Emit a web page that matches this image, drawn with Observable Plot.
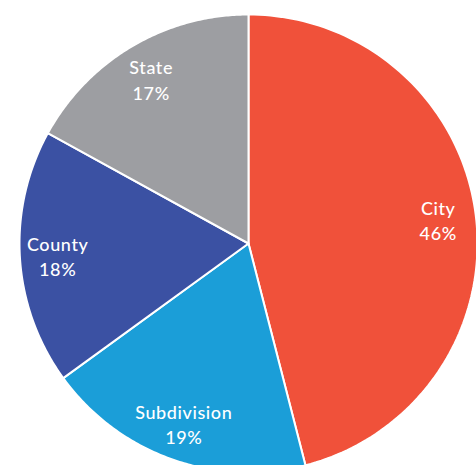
<!DOCTYPE html>
<html>
<head>
<meta charset="utf-8">
<script src="https://cdn.jsdelivr.net/npm/d3@7"></script>
<script src="https://cdn.jsdelivr.net/npm/@observablehq/plot@0.6"></script>
<style>
  html, body { margin: 0; padding: 0; background: #fff; overflow: hidden; }
  svg { overflow: hidden; }
  svg text { letter-spacing: 0.6px; }
</style>
</head>
<body>
<div id="chart"></div>
<script>
const categories = ["City", "Subdivision", "County", "State"];
const shares = [46, 19, 18, 17];
const labels = ["46%", "19%", "18%", "17%"];
const colors = ["#F0513A", "#1B9ED8", "#3B51A3", "#9D9EA2"];

const data = categories.map((c, i) => ({category: c, value: shares[i], label: labels[i]}));
const arcs = d3.pie().sort(null).value(d => d.value)(data);

// Polygon outline for each slice in unit-circle coordinates
const outline = [];
arcs.forEach(a => {
  const cat = a.data.category;
  outline.push({category: cat, x: 0, y: 0});
  const steps = 120;
  for (let k = 0; k <= steps; k++) {
    const t = a.startAngle + (a.endAngle - a.startAngle) * k / steps;
    outline.push({category: cat, x: Math.sin(t), y: Math.cos(t)});
  }
  outline.push({category: cat, x: 0, y: 0});
});

const labelR = 0.835;
const labelData = arcs.map(a => {
  const m = (a.startAngle + a.endAngle) / 2;
  return {x: labelR * Math.sin(m), y: labelR * Math.cos(m), text: a.data.category + "\n" + a.data.label};
});

const cx = 248, cy = 243, R = 229;
const chart = Plot.plot({
  width: 476,
  height: 465,
  margin: 0,
  x: {domain: [-1, 1], range: [cx - R, cx + R], axis: null},
  y: {domain: [-1, 1], range: [cy + R, cy - R], axis: null},
  color: {domain: categories, range: colors},
  style: {fontFamily: "Lato, 'Open Sans', sans-serif", background: "white"},
  marks: [
    Plot.line(outline, {x: "x", y: "y", z: "category", fill: "category", stroke: "white", strokeWidth: 2, strokeLinejoin: "round"}),
    Plot.text(labelData, {x: "x", y: "y", text: "text", fill: "white", fontSize: 18, fontWeight: 500, lineHeight: 1.42})
  ]
});
document.getElementById("chart").appendChild(chart);
</script>
</body>
</html>
